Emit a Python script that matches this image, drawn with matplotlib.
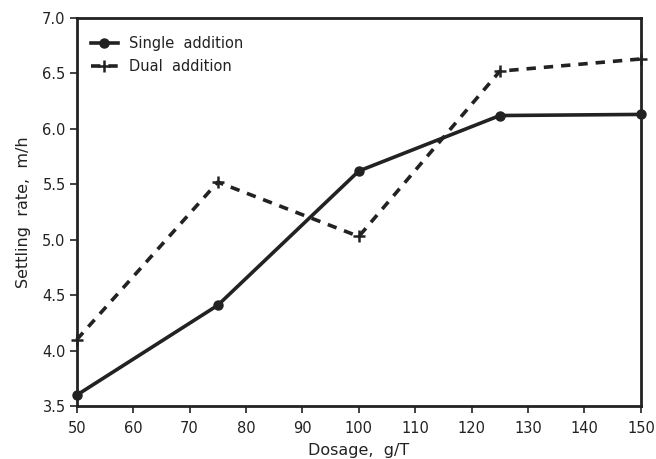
import matplotlib
matplotlib.use("Agg")
import matplotlib.pyplot as plt

dosage = [50, 75, 100, 125, 150]
single_addition = [3.60, 4.41, 5.62, 6.12, 6.13]
dual_addition = [4.10, 5.52, 5.03, 6.52, 6.63]

x_ticks = [50, 60, 70, 80, 90, 100, 110, 120, 130, 140, 150]
y_ticks = [3.5, 4.0, 4.5, 5.0, 5.5, 6.0, 6.5, 7.0]

plt.rcParams['font.family'] = ['DejaVu Sans']
fig = plt.figure(figsize=(6.56, 4.59), dpi=100)
ax = fig.add_axes([0.117, 0.115, 0.860, 0.846])

ax.plot(dosage, single_addition, color='#222222', lw=2.6, marker='o',
        markersize=6.5, label='Single  addition', clip_on=False, zorder=3)
ax.plot(dosage, dual_addition, color='#222222', lw=2.6, ls=(0, (2.6, 2.2)),
        marker='+', markersize=8, markeredgewidth=1.8, label='Dual  addition',
        clip_on=False, zorder=3)

ax.set_xlim(50, 150)
ax.set_ylim(3.5, 7.0)
ax.set_xticks(x_ticks)
ax.set_yticks(y_ticks)
ax.set_yticklabels(['%.1f' % v for v in y_ticks])

for s in ax.spines.values():
    s.set_linewidth(2.0)
    s.set_color('#222222')
ax.tick_params(direction='out', length=5, width=1.2, labelsize=10.5,
               colors='#222222')
ax.tick_params(axis='x', pad=6)
ax.tick_params(axis='y', pad=3)

ax.set_xlabel('Dosage,  g/T', fontsize=11.5, color='#222222', labelpad=5)
ax.set_ylabel('Settling  rate,  m/h', fontsize=11.5, color='#222222', labelpad=8)

leg = ax.legend(loc='upper left', frameon=False, fontsize=10.5,
                handlelength=1.8, borderaxespad=0.6, labelspacing=0.5,
                bbox_to_anchor=(0.0, 0.99))
for t in leg.get_texts():
    t.set_color('#222222')

fig.savefig('out.png', dpi=100)
